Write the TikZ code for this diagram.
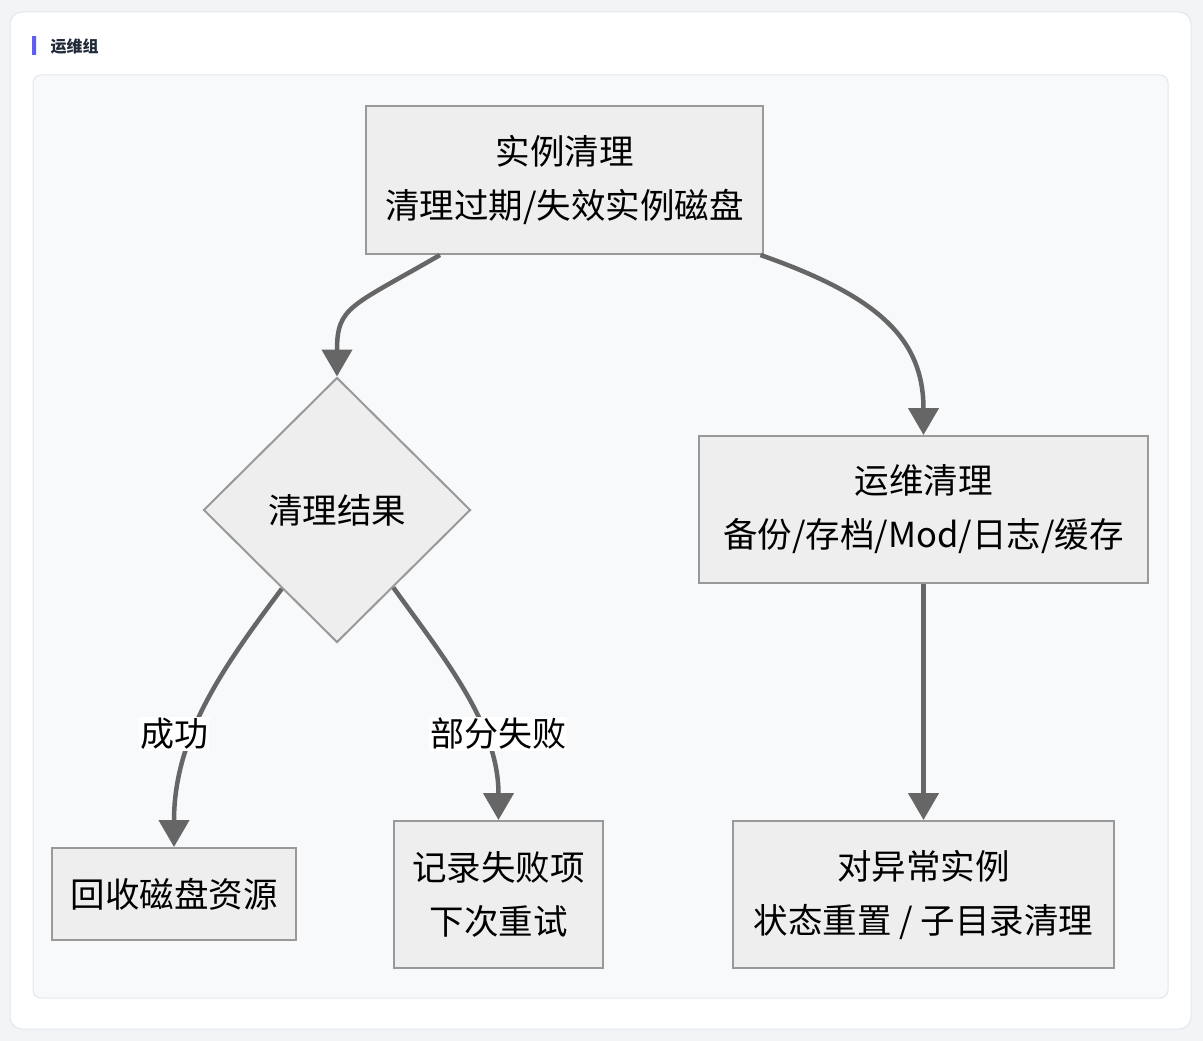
\documentclass[tikz,border=0pt]{standalone}
\usepackage{fontspec}
\setmainfont{Noto Sans CJK SC}
\usetikzlibrary{arrows.meta,shapes.geometric,positioning}

\definecolor{pagebg}{HTML}{F3F4F6}
\definecolor{cardline}{HTML}{E3E6EB}
\definecolor{panelbg}{HTML}{F8F9FB}
\definecolor{nodefill}{HTML}{EEEEEE}
\definecolor{nodeline}{HTML}{999999}
\definecolor{flowline}{HTML}{666666}
\definecolor{titlecol}{HTML}{1F2937}
\definecolor{barblue}{HTML}{3B6CF6}
\definecolor{barpurple}{HTML}{6A5CF0}

\begin{document}
\begin{tikzpicture}[x=1pt,y=-1pt,
    box/.style={
    % The shape:
    rectangle,inner sep=0pt,
    % The rest
    line width=2pt,draw=nodeline,fill=nodefill,
    font=\fontsize{34.5}{54}\selectfont,align=center},
    decision/.style={
    % The shape:
    diamond,aspect=1,inner sep=0pt,minimum width=267pt,minimum height=265pt,
    % The rest
    line width=2pt,draw=nodeline,fill=nodefill,
    font=\fontsize{34.5}{54}\selectfont},
    flow/.style={line width=4.5pt,draw=flowline,
    -{Triangle[length=27pt,width=30pt]}},
    edgelabel/.style={fill=white,inner sep=1pt,font=\fontsize{34}{40}\selectfont}]
    % backdrop
    \fill[pagebg] (0,0) rectangle (1203,1041);
    \draw[cardline,line width=1pt,fill=white,rounded corners=12pt] (10,12) rectangle (1191,1029);
    \draw[cardline,line width=1pt,fill=panelbg,rounded corners=8pt] (33,75) rectangle (1168,998);
    \shade[left color=barpurple,right color=barblue] (32,37) rectangle (36,55);
    \node (title) [anchor=west,text=titlecol,font=\fontsize{16}{18}\selectfont\bfseries] at (47,46) {运维组};
    % nodes
    \node (clean) [box,minimum width=397pt,minimum height=148pt] at (564.5,180) {实例清理\\清理过期/失效实例磁盘};
    \node (result) [decision] at (337,510) {清理结果};
    \node (ops) [box,minimum width=449pt,minimum height=147pt] at (923.5,509.5) {运维清理\\备份/存档/Mod/日志/缓存};
    \node (reclaim) [box,minimum width=244pt,minimum height=92pt] at (174,894) {回收磁盘资源};
    \node (retry) [box,minimum width=209pt,minimum height=147pt] at (498.5,894.5) {记录失败项\\下次重试};
    \node (reset) [box,minimum width=381pt,minimum height=147pt] at (923.5,894.5) {对异常实例\\状态重置 / 子目录清理};
    % connectors
    \draw[flow] ([xshift=-124.5pt]clean.south) .. controls +(-90,52) and +(0,-70) .. (result.north);
    \draw[flow] ([xshift=196pt]clean.south) .. controls +(120,42) and +(0,-95) .. (ops.north);
    \draw[flow] (result.-125) .. controls +(-60,80) and +(0,-110) .. (reclaim.north);
    \draw[flow] (result.-54) .. controls +(52,72) and +(0,-95) .. (retry.north);
    \draw[flow] (ops.south) -- (reset.north);
    % edge labels
    \node (ok) [edgelabel] at (174,734) {成功};
    \node (partial) [edgelabel] at (498,734) {部分失败};
\end{tikzpicture}
\end{document}
